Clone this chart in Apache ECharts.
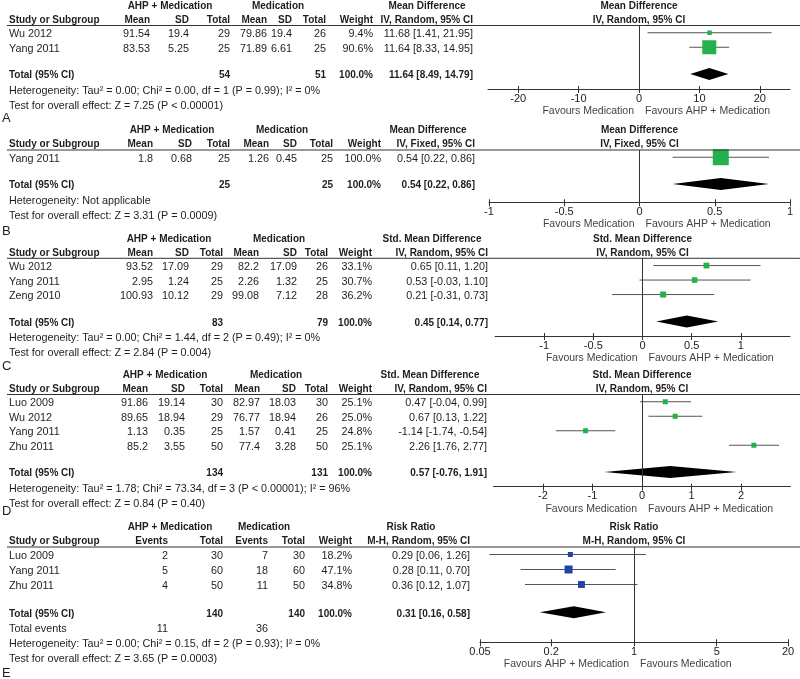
<!DOCTYPE html>
<html><head><meta charset="utf-8">
<script src="https://cdn.jsdelivr.net/npm/echarts@6/dist/echarts.min.js"></script>
<style>html,body{margin:0;padding:0;background:#fff}#c{width:800px;height:679px}</style>
</head><body><div id="c"></div>
<script>
// ---------- Panel A ----------
const studiesA = ['Wu 2012', 'Yang 2011'];
const expMeanA = ['91.54', '83.53'];
const expSdA = ['19.4', '5.25'];
const expTotA = [29, 25];
const ctlMeanA = ['79.86', '71.89'];
const ctlSdA = ['19.4', '6.61'];
const ctlTotA = [26, 25];
const weightA = [9.4, 90.6];
const estA = [11.68, 11.64];
const loA = [1.41, 8.33];
const hiA = [21.95, 14.95];
const totalA = [54, 51, 11.64, 8.49, 14.79];
const hetA = 'Heterogeneity: Tau\u00b2 = 0.00; Chi\u00b2 = 0.00, df = 1 (P = 0.99); I\u00b2 = 0%';
const testA = 'Test for overall effect: Z = 7.25 (P < 0.00001)';
const ticksA = [-20, -10, 0, 10, 20];

// ---------- Panel B ----------
const studiesB = ['Yang 2011'];
const expMeanB = ['1.8'];
const expSdB = ['0.68'];
const expTotB = [25];
const ctlMeanB = ['1.26'];
const ctlSdB = ['0.45'];
const ctlTotB = [25];
const weightB = [100.0];
const estB = [0.54];
const loB = [0.22];
const hiB = [0.86];
const totalB = [25, 25, 0.54, 0.22, 0.86];
const hetB = 'Heterogeneity: Not applicable';
const testB = 'Test for overall effect: Z = 3.31 (P = 0.0009)';
const ticksB = [-1, -0.5, 0, 0.5, 1];

// ---------- Panel C ----------
const studiesC = ['Wu 2012', 'Yang 2011', 'Zeng 2010'];
const expMeanC = ['93.52', '2.95', '100.93'];
const expSdC = ['17.09', '1.24', '10.12'];
const expTotC = [29, 25, 29];
const ctlMeanC = ['82.2', '2.26', '99.08'];
const ctlSdC = ['17.09', '1.32', '7.12'];
const ctlTotC = [26, 25, 28];
const weightC = [33.1, 30.7, 36.2];
const estC = [0.65, 0.53, 0.21];
const loC = [0.11, -0.03, -0.31];
const hiC = [1.20, 1.10, 0.73];
const totalC = [83, 79, 0.45, 0.14, 0.77];
const hetC = 'Heterogeneity: Tau\u00b2 = 0.00; Chi\u00b2 = 1.44, df = 2 (P = 0.49); I\u00b2 = 0%';
const testC = 'Test for overall effect: Z = 2.84 (P = 0.004)';
const ticksC = [-1, -0.5, 0, 0.5, 1];

// ---------- Panel D ----------
const studiesD = ['Luo 2009', 'Wu 2012', 'Yang 2011', 'Zhu 2011'];
const expMeanD = ['91.86', '89.65', '1.13', '85.2'];
const expSdD = ['19.14', '18.94', '0.35', '3.55'];
const expTotD = [30, 29, 25, 50];
const ctlMeanD = ['82.97', '76.77', '1.57', '77.4'];
const ctlSdD = ['18.03', '18.94', '0.41', '3.28'];
const ctlTotD = [30, 26, 25, 50];
const weightD = [25.1, 25.0, 24.8, 25.1];
const estD = [0.47, 0.67, -1.14, 2.26];
const loD = [-0.04, 0.13, -1.74, 1.76];
const hiD = [0.99, 1.22, -0.54, 2.77];
const totalD = [134, 131, 0.57, -0.76, 1.91];
const hetD = 'Heterogeneity: Tau\u00b2 = 1.78; Chi\u00b2 = 73.34, df = 3 (P < 0.00001); I\u00b2 = 96%';
const testD = 'Test for overall effect: Z = 0.84 (P = 0.40)';
const ticksD = [-2, -1, 0, 1, 2];

// ---------- Panel E ----------
const studiesE = ['Luo 2009', 'Yang 2011', 'Zhu 2011'];
const expEvE = [2, 5, 4];
const expTotE = [30, 60, 50];
const ctlEvE = [7, 18, 11];
const ctlTotE = [30, 60, 50];
const weightE = [18.2, 47.1, 34.8];
const estE = [0.29, 0.28, 0.36];
const loE = [0.06, 0.11, 0.12];
const hiE = [1.26, 0.70, 1.07];
const totalE = [140, 140, 0.31, 0.16, 0.58];
const totalEventsE = [11, 36];
const hetE = 'Heterogeneity: Tau\u00b2 = 0.00; Chi\u00b2 = 0.15, df = 2 (P = 0.93); I\u00b2 = 0%';
const testE = 'Test for overall effect: Z = 3.65 (P = 0.0003)';
const ticksE = [0.05, 0.2, 1, 5, 20];

// ---------- layout / style ----------
const FONT = '"Liberation Sans", Arial, Helvetica, sans-serif';
const TXT = '#1e1e1e';
const GREEN = '#22b14c';
const BLUE = '#2342a8';

function T(x, y, text, o) {
  o = o || {};
  const al = o.align || 'left';
  const size = o.size || (o.bold ? 10 : 10.8);
  return {type: 'text', silent: true, x: x, y: y, z: 10,
    style: {text: String(text), fill: o.fill || TXT,
      font: (o.bold ? 'bold ' : '') + size + 'px ' + FONT,
      align: al, verticalAlign: 'middle'}};
}
function L(x1, y1, x2, y2) {
  return {type: 'line', silent: true, z: 10, shape: {x1: x1, y1: y1, x2: x2, y2: y2},
    style: {stroke: '#333', lineWidth: 1}};
}
const ci = (e, l, h) => e.toFixed(2) + ' [' + l.toFixed(2) + ', ' + h.toFixed(2) + ']';

const panels = [
  {letter: 'A', kind: 'md', studies: studiesA, c1: expMeanA, c2: expSdA, c3: expTotA, c4: ctlMeanA, c5: ctlSdA, c6: ctlTotA,
   w: weightA, est: estA, lo: loA, hi: hiA, tot: totalA, het: hetA, test: testA, ticks: ticksA,
   measure: 'Mean Difference', method: 'IV, Random, 95% CI', min: -25, max: 25, log: false,
   favL: 'Favours Medication', favR: 'Favours AHP + Medication', color: GREEN, box: 1.47,
   lineY: 25.5, rowH: 14.5, axisY: 89, gL: 488, gR: 790, letterY: 118,
   cols: [150, 189, 230, 267, 292, 326, 373, 473], g1: 170, g2: 278, g3: 427},
  {letter: 'B', kind: 'md', studies: studiesB, c1: expMeanB, c2: expSdB, c3: expTotB, c4: ctlMeanB, c5: ctlSdB, c6: ctlTotB,
   w: weightB, est: estB, lo: loB, hi: hiB, tot: totalB, het: hetB, test: testB, ticks: ticksB,
   measure: 'Mean Difference', method: 'IV, Fixed, 95% CI', min: -1, max: 1, log: false,
   favL: 'Favours Medication', favR: 'Favours AHP + Medication', color: GREEN, box: 1.6,
   lineY: 150, rowH: 14.5, axisY: 202.3, gL: 489, gR: 790, letterY: 231,
   cols: [153, 192, 230, 269, 297, 333, 381, 475], g1: 172, g2: 282, g3: 428},
  {letter: 'C', kind: 'md', studies: studiesC, c1: expMeanC, c2: expSdC, c3: expTotC, c4: ctlMeanC, c5: ctlSdC, c6: ctlTotC,
   w: weightC, est: estC, lo: loC, hi: hiC, tot: totalC, het: hetC, test: testC, ticks: ticksC,
   measure: 'Std. Mean Difference', method: 'IV, Random, 95% CI', min: -1.5, max: 1.5, log: false,
   favL: 'Favours Medication', favR: 'Favours AHP + Medication', color: GREEN, box: 1.0,
   lineY: 258.3, rowH: 14.5, axisY: 336, gL: 495, gR: 790, letterY: 366,
   cols: [153, 189, 223, 259, 297, 328, 372, 488], g1: 169, g2: 279, g3: 432},
  {letter: 'D', kind: 'md', studies: studiesD, c1: expMeanD, c2: expSdD, c3: expTotD, c4: ctlMeanD, c5: ctlSdD, c6: ctlTotD,
   w: weightD, est: estD, lo: loD, hi: hiD, tot: totalD, het: hetD, test: testD, ticks: ticksD,
   measure: 'Std. Mean Difference', method: 'IV, Random, 95% CI', min: -3, max: 3, log: false,
   favL: 'Favours Medication', favR: 'Favours AHP + Medication', color: GREEN, box: 1.0,
   lineY: 394.5, rowH: 14.5, axisY: 486.7, gL: 493.5, gR: 790.5, letterY: 511,
   cols: [148, 185, 223, 260, 296, 328, 372, 487], g1: 165, g2: 276, g3: 430},
  {letter: 'E', kind: 'rr', studies: studiesE, c1: expEvE, c3: expTotE, c4: ctlEvE, c6: ctlTotE,
   w: weightE, est: estE, lo: loE, hi: hiE, tot: totalE, het: hetE, test: testE, ticks: ticksE,
   measure: 'Risk Ratio', method: 'M-H, Random, 95% CI', min: 0.05, max: 20, log: true,
   favL: 'Favours AHP + Medication', favR: 'Favours Medication', color: BLUE, box: 1.17,
   lineY: 547, rowH: 15, axisY: 642.3, gL: 480, gR: 788, letterY: 673,
   cols: [168, 223, 268, 305, 352, 470], g1: 170, g2: 264, g3: 411}
];

const grid = [], xAxis = [], yAxis = [], series = [], gfx = [];

panels.forEach((p, k) => {
  const n = p.studies.length;
  const mY = i => p.lineY + p.rowH * (i + 0.5);
  const totY = p.lineY + p.rowH * (n + 1.35);
  const tY = y => y + 1.5;
  const h1 = p.lineY - 19.5, h2 = p.lineY - 5.5;

  // table headers
  gfx.push(T(p.g1, h1, 'AHP + Medication', {bold: true, align: 'center'}));
  gfx.push(T(p.g2, h1, 'Medication', {bold: true, align: 'center'}));
  gfx.push(T(p.g3, h1, p.measure, {bold: true, align: 'center'}));
  gfx.push(T(9, h2, 'Study or Subgroup', {bold: true}));
  let heads, rowsVals, totVals;
  const c = p.cols;
  if (p.kind === 'md') {
    heads = ['Mean', 'SD', 'Total', 'Mean', 'SD', 'Total', 'Weight', p.method];
    rowsVals = i => [p.c1[i], p.c2[i], p.c3[i], p.c4[i], p.c5[i], p.c6[i], p.w[i].toFixed(1) + '%', ci(p.est[i], p.lo[i], p.hi[i])];
    totVals = [null, null, p.tot[0], null, null, p.tot[1], '100.0%', ci(p.tot[2], p.tot[3], p.tot[4])];
  } else {
    heads = ['Events', 'Total', 'Events', 'Total', 'Weight', p.method];
    rowsVals = i => [p.c1[i], p.c3[i], p.c4[i], p.c6[i], p.w[i].toFixed(1) + '%', ci(p.est[i], p.lo[i], p.hi[i])];
    totVals = [null, p.tot[0], null, p.tot[1], '100.0%', ci(p.tot[2], p.tot[3], p.tot[4])];
  }
  heads.forEach((h, j) => gfx.push(T(c[j], h2, h, {bold: true, align: 'right'})));
  gfx.push(L(7, p.lineY, 800, p.lineY));

  p.studies.forEach((s, i) => {
    const y = tY(mY(i));
    gfx.push(T(9, y, s));
    rowsVals(i).forEach((v, j) => gfx.push(T(c[j], y, v, {align: 'right'})));
  });
  const ty = tY(totY);
  gfx.push(T(9, ty, 'Total (95% CI)', {bold: true}));
  totVals.forEach((v, j) => { if (v !== null) gfx.push(T(c[j], ty, v, {bold: true, align: 'right'})); });
  let ly = ty + 15.5;
  if (p.kind === 'rr') {
    gfx.push(T(9, ly - 0.5, 'Total events'));
    gfx.push(T(c[0], ly - 0.5, totalEventsE[0], {align: 'right'}));
    gfx.push(T(c[2], ly - 0.5, totalEventsE[1], {align: 'right'}));
    ly += 15;
  }
  gfx.push(T(9, ly, p.het));
  gfx.push(T(9, ly + 15, p.test));
  gfx.push(T(2, p.letterY, p.letter, {size: 13}));

  // plot
  const zeroV = p.log ? 1 : 0;
  const frac = p.log ? (Math.log(zeroV) - Math.log(p.min)) / (Math.log(p.max) - Math.log(p.min))
                     : (zeroV - p.min) / (p.max - p.min);
  const zeroPx = p.gL + frac * (p.gR - p.gL);
  gfx.push(T(zeroPx, h1, p.measure, {bold: true, align: 'center'}));
  gfx.push(T(zeroPx, h2, p.method, {bold: true, align: 'center'}));
  gfx.push(T(zeroPx - 5, p.axisY + 22, p.favL, {align: 'right', size: 10.5, fill: '#444'}));
  gfx.push(T(zeroPx + 6, p.axisY + 22, p.favR, {align: 'left', size: 10.5, fill: '#444'}));

  grid.push({left: p.gL, width: p.gR - p.gL, top: p.lineY, height: p.axisY - p.lineY, containLabel: false});
  const fmt = v => String(parseFloat((+v).toPrecision(6)));
  const base = {gridIndex: k, type: p.log ? 'log' : 'value', logBase: 10, min: p.min, max: p.max,
    position: 'bottom', splitLine: {show: false}};
  xAxis.push(Object.assign({}, base, {
    axisLine: {show: true, onZero: false, lineStyle: {color: '#333', width: 1}},
    axisTick: {show: true, length: 4, customValues: p.ticks, lineStyle: {color: '#333'}},
    axisLabel: {customValues: p.ticks, margin: 4, fontSize: 11, fontFamily: FONT, color: '#222',
      formatter: fmt, showMinLabel: true, showMaxLabel: true}
  }));
  xAxis.push(Object.assign({}, base, {
    axisLine: {show: false, onZero: false},
    axisTick: {show: true, inside: true, length: 3, customValues: p.ticks, lineStyle: {color: '#333'}},
    axisLabel: {show: false}
  }));
  yAxis.push({gridIndex: k, type: 'value', inverse: true, min: 0, max: (p.axisY - p.lineY) / p.rowH, show: false});

  const color = p.color, box = p.box;
  series.push({
    type: 'custom', xAxisIndex: 2 * k, yAxisIndex: k, clip: false, silent: true, animation: false,
    encode: {x: [0, 2, 3], y: 1},
    data: p.studies.map((s, i) => [p.est[i], i + 0.5, p.lo[i], p.hi[i], p.w[i]]),
    renderItem: (params, api) => {
      const y = api.value(1);
      const cc = api.coord([api.value(0), y]);
      const l = api.coord([api.value(2), y]);
      const h = api.coord([api.value(3), y]);
      const s = box * Math.sqrt(api.value(4));
      return {type: 'group', children: [
        {type: 'line', shape: {x1: l[0], y1: cc[1], x2: h[0], y2: cc[1]}, style: {stroke: '#555', lineWidth: 1}},
        {type: 'rect', shape: {x: cc[0] - s / 2, y: cc[1] - s / 2, width: s, height: s}, style: {fill: color}}
      ]};
    },
    markLine: {silent: true, symbol: 'none', animation: false, label: {show: false},
      lineStyle: {color: '#333', width: 1, type: 'solid'}, data: [{xAxis: zeroV}]}
  });
  series.push({
    type: 'custom', xAxisIndex: 2 * k, yAxisIndex: k, clip: false, silent: true, animation: false,
    encode: {x: [0, 2, 3], y: 1},
    data: [[p.tot[2], n + 1.35, p.tot[3], p.tot[4]]],
    renderItem: (params, api) => {
      const y = api.value(1);
      const cc = api.coord([api.value(0), y]);
      const l = api.coord([api.value(2), y]);
      const h = api.coord([api.value(3), y]);
      return {type: 'polygon', shape: {points: [[l[0], cc[1]], [cc[0], cc[1] - 6], [h[0], cc[1]], [cc[0], cc[1] + 6]]},
        style: {fill: '#000'}};
    }
  });
});

const chart = echarts.init(document.getElementById('c'), null, {renderer: 'canvas'});
chart.setOption({
  backgroundColor: '#fff',
  animation: false,
  grid: grid, xAxis: xAxis, yAxis: yAxis, series: series,
  graphic: {elements: gfx}
});
</script></body></html>
